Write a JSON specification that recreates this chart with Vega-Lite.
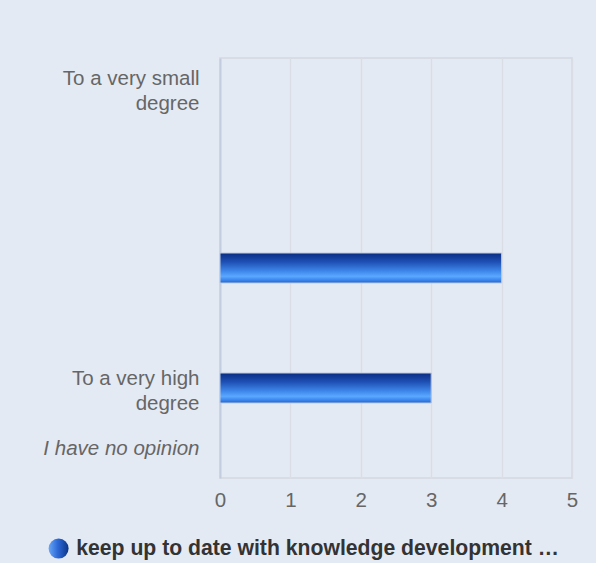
{
  "$schema": "https://vega.github.io/schema/vega-lite/v6.json",
  "width": 352,
  "height": 420,
  "autosize": {"type": "none"},
  "padding": {"left": 220, "top": 58, "right": 24, "bottom": 85},
  "background": "#e4eaf4",
  "config": {
    "font": "Liberation Sans",
    "view": {"stroke": "#d3d7de", "strokeWidth": 1.5},
    "axis": {"labelFont": "Liberation Sans"}
  },
  "data": {
    "values": [
      {"category": "4", "value": 4, "series": "keep up to date with knowledge development …"},
      {"category": "To a very high degree", "value": 3, "series": "keep up to date with knowledge development …"}
    ]
  },
  "encoding": {
    "y": {
      "field": "category",
      "type": "nominal",
      "scale": {
        "domain": ["To a very small degree", "2", "3", "4", "5", "To a very high degree", "I have no opinion"],
        "paddingInner": 0.5,
        "paddingOuter": 0.25
      },
      "axis": {
        "title": null,
        "ticks": false,
        "grid": false,
        "domain": true,
        "domainColor": "#c3cde0",
        "domainWidth": 2,
        "labelPadding": 21,
        "labelFontSize": 20.5,
        "labelColor": "#666666",
        "labelLineHeight": 25,
        "labelOverlap": false,
        "labelBound": false,
        "labelLimit": 0,
        "labelOffset": {"condition": {"test": "datum.value == 'To a very small degree' || datum.value == 'To a very high degree'", "value": -9}, "value": 0.5},
        "labelExpr": "datum.value == 'To a very small degree' ? ['To a very small', 'degree'] : datum.value == 'To a very high degree' ? ['To a very high', 'degree'] : datum.value == 'I have no opinion' ? 'I have no opinion' : ''",
        "labelFontStyle": {"condition": {"test": "datum.value == 'I have no opinion'", "value": "italic"}, "value": "normal"}
      }
    },
    "x": {
      "field": "value",
      "type": "quantitative",
      "scale": {"domain": [0, 5], "nice": false},
      "axis": {
        "title": null,
        "values": [0, 1, 2, 3, 4, 5],
        "ticks": false,
        "domain": false,
        "grid": true,
        "gridColor": "#dadde3",
        "gridWidth": 1.5,
        "labelPadding": 12,
        "labelFontSize": 20.5,
        "labelColor": "#666666",
        "labelFlush": false
      }
    }
  },
  "layer": [
    {
      "mark": {
        "type": "bar",
        "fill": {
          "gradient": "linear",
          "x1": 0, "y1": 0, "x2": 1, "y2": 0,
          "stops": [
            {"offset": 0, "color": "#6aa6f5"},
            {"offset": 0.45, "color": "#2d6ad8"},
            {"offset": 1, "color": "#0c3488"}
          ]
        }
      },
      "encoding": {
        "opacity": {
          "field": "series",
          "type": "nominal",
          "scale": {"range": [1]},
          "legend": {
            "title": null,
            "orient": "none",
            "legendX": -172,
            "legendY": 480,
            "symbolType": "circle",
            "symbolSize": 400,
            "symbolStrokeWidth": 0,
            "labelFontSize": 21.2,
            "labelFontWeight": "bold",
            "labelColor": "#333333",
            "labelLimit": 0,
            "labelOffset": 7
          }
        }
      }
    },
    {
      "mark": {
        "type": "bar",
        "stroke": "#bfcbe0",
        "strokeWidth": 1,
        "fill": {
          "gradient": "linear",
          "x1": 0, "y1": 0, "x2": 0, "y2": 1,
          "stops": [
            {"offset": 0, "color": "#0a2c82"},
            {"offset": 0.3, "color": "#1f50b5"},
            {"offset": 0.6, "color": "#3e86ea"},
            {"offset": 0.78, "color": "#5aa7ff"},
            {"offset": 0.9, "color": "#3a86ee"},
            {"offset": 1, "color": "#2262cc"}
          ]
        }
      },
      "encoding": {}
    }
  ]
}
